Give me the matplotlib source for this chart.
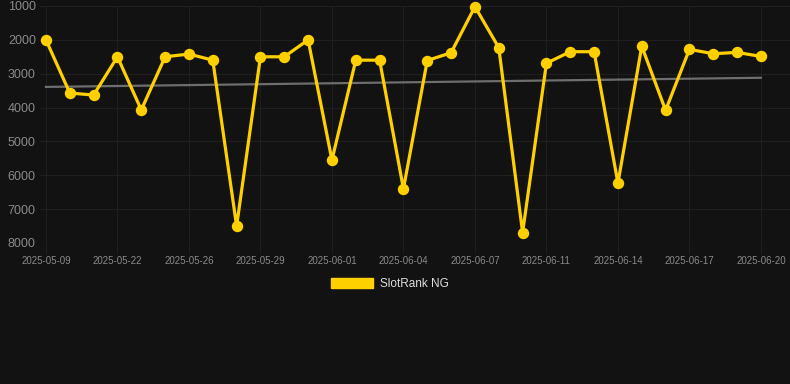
import numpy as np
import matplotlib
matplotlib.use("Agg")
from matplotlib import pyplot as plt
from matplotlib.patches import Patch

plt.rcParams["font.family"] = ["Liberation Sans", "DejaVu Sans"]

dates = ["2025-05-09", "2025-05-20", "2025-05-21", "2025-05-22", "2025-05-23",
         "2025-05-24", "2025-05-26", "2025-05-27", "2025-05-28", "2025-05-29",
         "2025-05-30", "2025-05-31", "2025-06-01", "2025-06-02", "2025-06-03",
         "2025-06-04", "2025-06-05", "2025-06-06", "2025-06-07", "2025-06-08",
         "2025-06-10", "2025-06-11", "2025-06-12", "2025-06-13", "2025-06-14",
         "2025-06-15", "2025-06-16", "2025-06-17", "2025-06-18", "2025-06-19",
         "2025-06-20"]
rank = [2000, 3570, 3630, 2500, 4070, 2500, 2420, 2600, 7500, 2500,
        2500, 2000, 5550, 2600, 2600, 6400, 2610, 2380, 1020, 2230,
        7690, 2690, 2350, 2350, 6230, 2190, 4080, 2280, 2410, 2370,
        2490]
trend_ends = [3390, 3120]
series_name = "SlotRank NG"

bg = "#121212"
gold = "#FFD000"
txt = "#8a8a8a"

fig = plt.figure(figsize=(7.9, 3.84), dpi=100, facecolor=bg)
ax = fig.add_axes([40 / 790, 1 - 243 / 384, 1 - 40 / 790, 237 / 384])
ax.set_facecolor(bg)

x = np.arange(len(rank))
ax.plot([x[0], x[-1]], trend_ends, color="#6e6e6e", lw=1.6, zorder=2)
ax.plot(x, rank, color=gold, lw=2.3, marker="o", ms=7.2, mec=gold, mfc=gold,
        zorder=3, clip_on=False)

ax.set_ylim(8000, 1000)
ax.set_yticks(range(1000, 9000, 1000))
ax.set_xlim(-0.25, len(rank) - 1 + 1.22)
ax.set_xticks(x[::3])
ax.set_xticklabels(dates[::3])

ax.grid(True, color="#1f1f1f", lw=0.8)
ax.set_axisbelow(True)
for s in ax.spines.values():
    s.set_visible(False)
ax.tick_params(axis="y", length=0, pad=3, labelsize=9, labelcolor=txt)
ax.tick_params(axis="x", length=7, color="#1f1f1f", pad=2, labelsize=7, labelcolor=txt)

fig.legend(handles=[Patch(color=gold, label=series_name)], loc="center",
           bbox_to_anchor=(390 / 790, 1 - 284 / 384), frameon=False,
           handlelength=3.6, handleheight=1.0, handletextpad=0.6,
           fontsize=8.5, labelcolor="#dddddd")

fig.savefig("out.png", facecolor=bg)
